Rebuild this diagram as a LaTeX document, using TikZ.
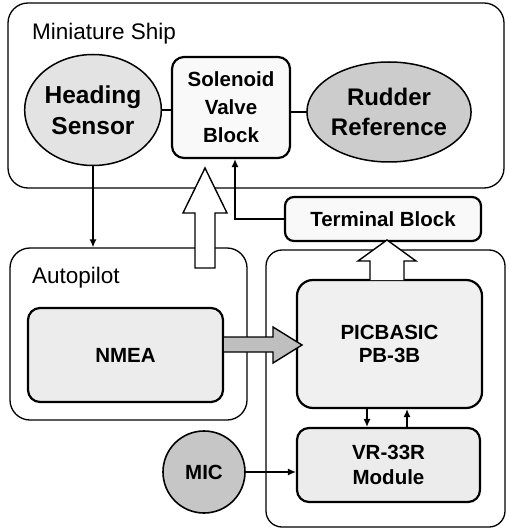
\documentclass[tikz,border=0pt]{standalone}
\usepackage{fontspec}
\setmainfont{Liberation Sans}
\usetikzlibrary{shapes.geometric,arrows.meta}
\newcommand{\myfs}[2]{\fontsize{#1}{#2}\selectfont}
\begin{document}
\begin{tikzpicture}[x=1pt,y=-1pt,
  group/.style={draw, line width=1.3pt, rounded corners=20pt, fill=white, inner sep=0pt},
  blk/.style={draw, line width=2.2pt, rounded corners=12pt, align=center, inner sep=0pt,
              font=\myfs{20.5}{28}\bfseries},
  oval/.style={draw, line width=1.5pt, ellipse, inner sep=0pt, align=center,
              font=\myfs{24.5}{31}\bfseries},
  grouplabel/.style={anchor=base west, inner sep=0pt, font=\myfs{22.5}{25}},
  conn/.style={line width=1.3pt, -{Latex[length=8pt,width=7pt]}},
  plain/.style={line width=1.3pt},
  hollow/.style={draw, line width=1.4pt, fill=white, line join=miter},
  grayarrow/.style={draw, line width=1.4pt, fill=gray!50, line join=miter}]
\useasboundingbox (0,0) rectangle (508,529);
\fill[white] (0,0) rectangle (508,529);

% group boxes
\node[group, minimum width=496pt, minimum height=185pt] (ship) at (256,95.5) {};
\node[grouplabel] (shiplabel) at (32,40) {Miniature Ship};
\node[group, minimum width=237pt, minimum height=172pt] (autopilot) at (128.5,334) {};
\node[grouplabel] (aplabel) at (32,283) {Autopilot};
\node[group, minimum width=239pt, minimum height=277pt, rounded corners=16pt] (rightgrp) at (385.5,388.5) {};

% ship contents
\node[oval, fill=gray!22, minimum width=119pt, minimum height=111pt] (heading) at (93,110) {Heading\\Sensor};
\node[blk, fill=gray!5, minimum width=118pt, minimum height=101pt] (solenoid) at (231,107.5) {Solenoid\\Valve\\Block};
\node[oval, fill=gray!40, minimum width=155pt, minimum height=100pt, font=\myfs{24}{30}\bfseries] (rudder) at (389,112) {Rudder\\Reference};
\draw[plain] (heading.east) -- (heading.east -| solenoid.west);
\draw[plain] (solenoid.east |- rudder.west) -- (rudder.west);

% terminal block
\node[blk, fill=gray!5, minimum width=196pt, minimum height=44pt, rounded corners=9pt] (terminal) at (383,219) {Terminal Block};

% autopilot contents
\node[blk, fill=gray!15, minimum width=195pt, minimum height=94pt] (nmea) at (125.5,355) {NMEA};

% right group contents
\node[blk, fill=gray!12, minimum width=185pt, minimum height=128pt, rounded corners=16pt,
      font=\myfs{20.5}{23}\bfseries] (pic) at (389.5,344) {PICBASIC\\PB-3B};
\node[blk, fill=gray!15, minimum width=183pt, minimum height=74pt,
      font=\myfs{20.5}{25}\bfseries] (vr) at (388.5,465) {VR-33R\\Module};
\node[draw, circle, line width=1.6pt, fill=gray!45, minimum size=82pt, inner sep=0pt,
      font=\myfs{20.5}{24}\bfseries] (mic) at (204,472) {MIC};

% connectors
\draw[conn] (heading.south) -- (heading.south |- autopilot.north);
\draw[conn] (terminal.west) -| ([xshift=4pt]solenoid.south);
\draw[conn] ([xshift=-22.5pt]pic.south) -- ([xshift=-22.5pt]pic.south |- vr.north);
\draw[conn] ([xshift=18.5pt]vr.north) -- ([xshift=18.5pt]vr.north |- pic.south);
\draw[conn] (mic.east) -- (mic.east -| vr.west);

% hollow arrow autopilot -> solenoid
\draw[hollow] (195,268) -- (195,213) -- (183,213) -- (205,168) -- (227,213) -- (215,213) -- (215,268) -- cycle;
% hollow arrow pic -> terminal
\draw[hollow] (370,280) -- (370,261) -- (358,261) -- (387,240) -- (416,261) -- (404,261) -- (404,280);
% gray arrow nmea -> pic
\draw[grayarrow] (224,337) -- (273,337) -- (273,327) -- (302,345) -- (273,363) -- (273,352) -- (224,352);
\end{tikzpicture}
\end{document}
